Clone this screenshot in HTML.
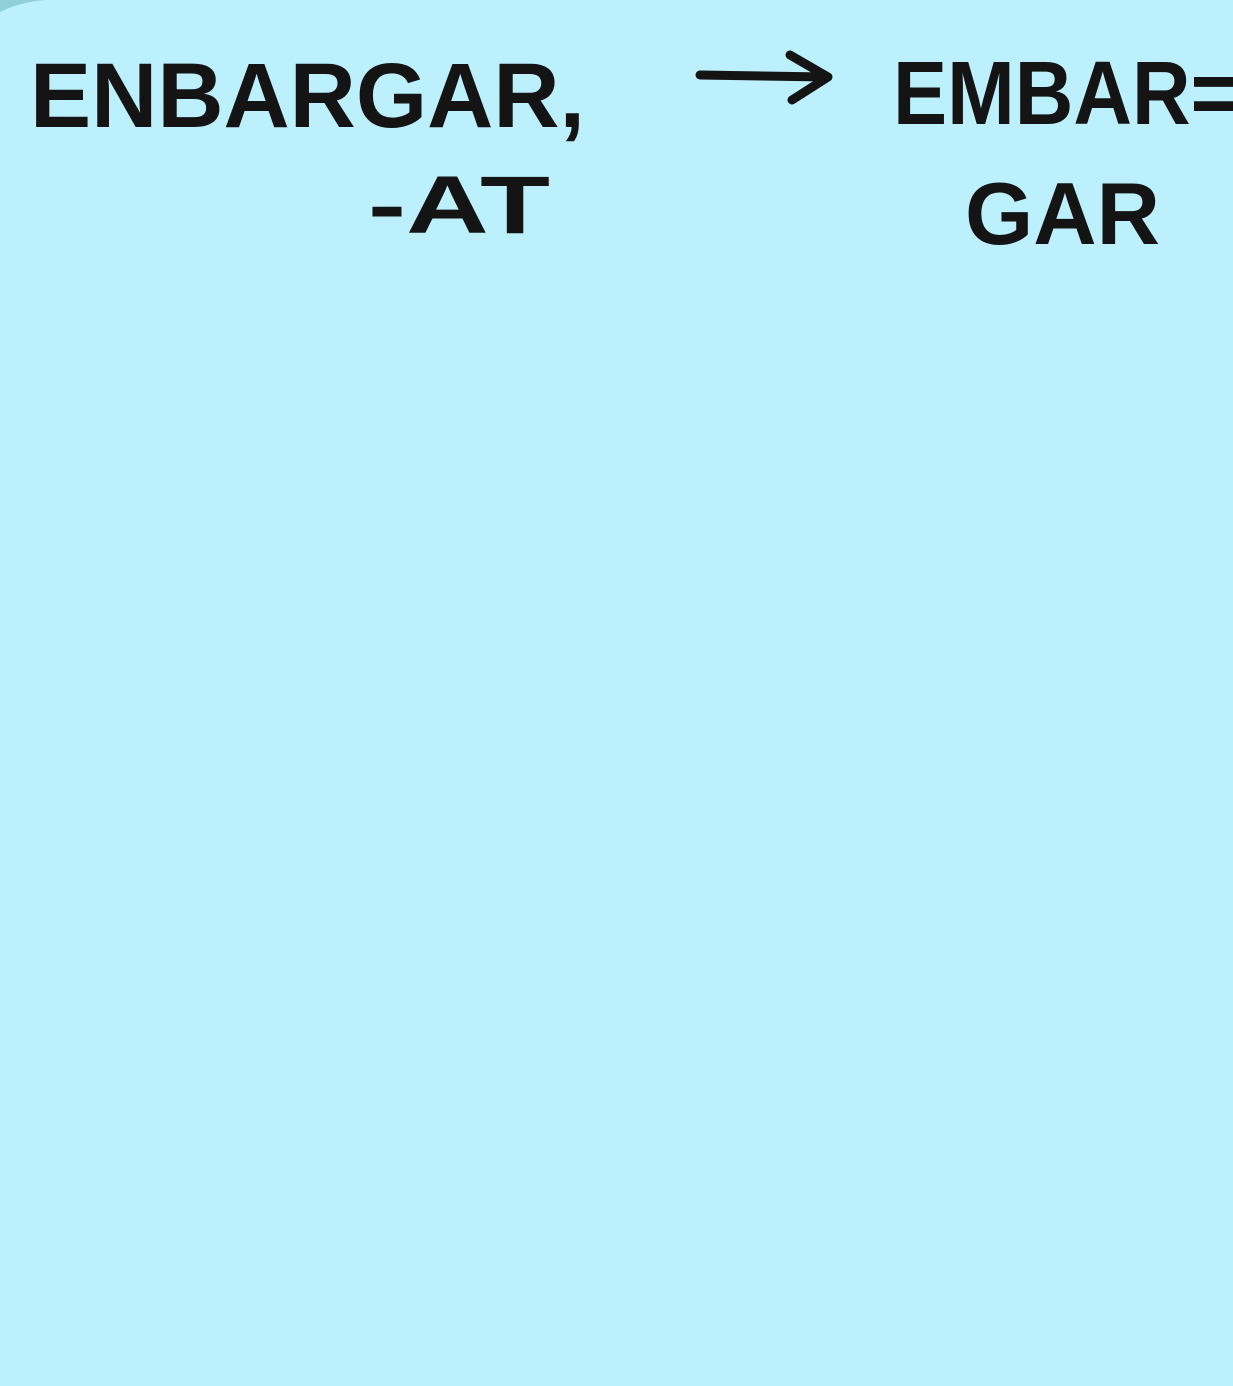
<!DOCTYPE html>
<html>
<head>
<meta charset="utf-8">
<style>
  html,body{margin:0;padding:0;background:#bcf0fd;}
  body{width:1233px;height:1386px;overflow:hidden;}
  svg{display:block;}
  text{font-family:"Liberation Sans",sans-serif;font-weight:bold;fill:#141414;}
</style>
</head>
<body>
<svg width="1233" height="1386" viewBox="0 0 1233 1386">
  <rect x="0" y="0" width="1233" height="1386" fill="#bcf0fd"/>
  <path d="M0 12 Q20 2 45 0 L0 0 Z" fill="#8fcfd6"/>
  <text x="30" y="127" font-size="92" textLength="555" lengthAdjust="spacingAndGlyphs">ENBARGAR,</text>
  <text x="368" y="233" font-size="82" textLength="182" lengthAdjust="spacingAndGlyphs">-AT</text>
  <g stroke="#141414" stroke-width="9" fill="none" stroke-linecap="round" stroke-linejoin="round">
    <line x1="700" y1="75" x2="825" y2="77"/>
    <path d="M790 55 L828 77 L792 100"/>
  </g>
  <text x="893" y="124" font-size="90" textLength="345" lengthAdjust="spacingAndGlyphs">EMBAR=</text>
  <text x="965" y="244" font-size="88" textLength="195" lengthAdjust="spacingAndGlyphs">GAR</text>
</svg>
</body>
</html>
